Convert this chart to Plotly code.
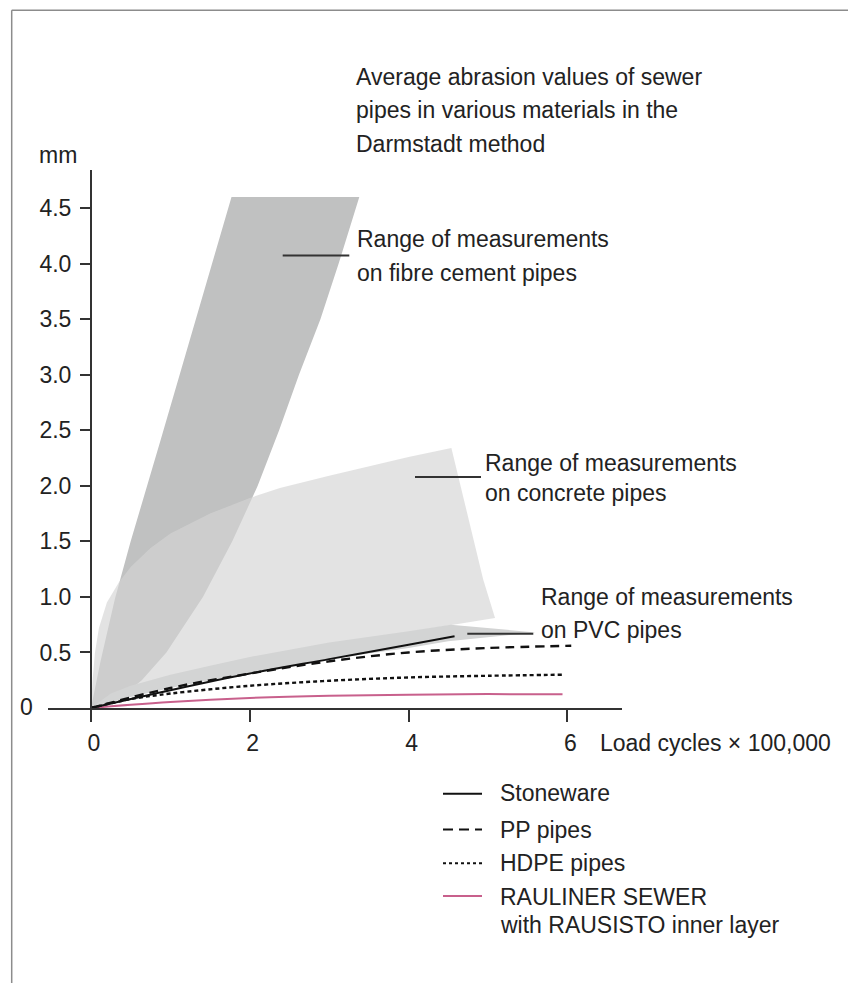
import plotly.graph_objects as go

# ---------------- data ----------------
x_tick_vals = [0, 2, 4, 6]
x_tick_text = ["0", "2", "4", "6"]
y_tick_vals = [0.5, 1.0, 1.5, 2.0, 2.5, 3.0, 3.5, 4.0, 4.5]
y_tick_text = ["0.5", "1.0", "1.5", "2.0", "2.5", "3.0", "3.5", "4.0", "4.5"]

# range bands (outline points, going round each band)
fibre_x = [0, 0.12, 0.30, 0.50, 0.88, 1.30, 1.77,
           3.38, 3.25, 3.12, 2.89, 2.62, 2.37, 2.10, 1.78, 1.41, 0.95, 0.64, 0.38, 0]
fibre_y = [0, 0.42, 0.98, 1.50, 2.42, 3.45, 4.60,
           4.60, 4.30, 4.00, 3.50, 3.00, 2.50, 2.00, 1.50, 1.00, 0.50, 0.25, 0.10, 0]

concrete_x = [0, 0.02, 0.05, 0.10, 0.20, 0.35, 0.50, 0.75, 1.00, 1.50, 2.00, 2.38, 3.00,
              3.46, 4.00, 4.54, 4.94, 5.09, 4.53, 4.00, 3.00, 2.00, 1.00, 0.50, 0]
concrete_y = [0, 0.25, 0.50, 0.72, 0.95, 1.13, 1.27, 1.44, 1.57, 1.75, 1.89, 1.98, 2.09,
              2.17, 2.26, 2.34, 1.16, 0.81, 0.745, 0.68, 0.57, 0.44, 0.28, 0.18, 0]

pvc_x = [0, 0.25, 0.50, 1.00, 1.50, 2.00, 3.00, 4.00, 4.53, 5.60,
         4.50, 4.00, 3.00, 2.00, 1.00, 0.50, 0]
pvc_y = [0, 0.13, 0.20, 0.30, 0.38, 0.46, 0.59, 0.69, 0.75, 0.68,
         0.60, 0.54, 0.44, 0.32, 0.18, 0.10, 0]

# abrasion curves
stone_x = [0, 1.00, 2.00, 3.00, 4.00, 4.58]
stone_y = [0, 0.16, 0.31, 0.44, 0.57, 0.645]

pp_x = [0, 1.00, 2.00, 3.00, 4.00, 5.00, 6.05]
pp_y = [0, 0.18, 0.31, 0.42, 0.50, 0.54, 0.56]

hdpe_x = [0, 0.50, 1.00, 2.00, 3.00, 4.00, 5.00, 5.97]
hdpe_y = [0, 0.08, 0.13, 0.20, 0.245, 0.275, 0.29, 0.30]

rau_x = [0, 0.50, 1.00, 2.00, 3.00, 4.00, 5.00, 5.94]
rau_y = [0, 0.03, 0.055, 0.09, 0.11, 0.12, 0.125, 0.124]

title_lines = ["Average abrasion values of sewer",
               "pipes in various materials in the",
               "Darmstadt method"]
band_labels = {
    "fibre": ["Range of measurements", "on fibre cement pipes"],
    "concrete": ["Range of measurements", "on concrete pipes"],
    "pvc": ["Range of measurements", "on PVC pipes"],
}
series_names = ["Stoneware", "PP pipes", "HDPE pipes", "RAULINER SEWER"]
rau_second_line = "with RAUSISTO inner layer"

# ---------------- styling ----------------
FONT = "Liberation Sans, Arial, Helvetica, sans-serif"
FS = 23
TXT = "#222222"
AX = "#333333"
PINK = "#c8608c"
C_FIBRE = "#c0c1c1"
C_CONC = "rgba(212,212,212,0.65)"
C_PVC = "#d3d4d4"

OFF = 8                      # page body margin of the browser
W, H = 856 - OFF, 983 - OFF
# plot area in page pixels
L_P, R_P, T_P, B_P = 48, 622, 170, 708.5
L, R, T, B = L_P - OFF, R_P - OFF, T_P - OFF, B_P - OFF
X0_PAGE, X_PER, Y_PER = 91.0, 79.38, 111.2
XR = [(L_P - X0_PAGE) / X_PER, (R_P - X0_PAGE) / X_PER]
YR = [0, (B_P - T_P) / Y_PER]


def px(xp):
    """page x pixel -> paper fraction"""
    return (xp - L_P) / (R_P - L_P)


def py(yp):
    """page y pixel -> paper fraction"""
    return (B_P - yp) / (B_P - T_P)


fig = go.Figure()

fig.add_trace(go.Scatter(x=fibre_x, y=fibre_y, fill="toself", fillcolor=C_FIBRE,
                         mode="lines", line=dict(width=0),
                         name="Fibre cement pipes", hoverinfo="skip"))
fig.add_trace(go.Scatter(x=concrete_x, y=concrete_y, fill="toself", fillcolor=C_CONC,
                         mode="lines", line=dict(width=0),
                         name="Concrete pipes", hoverinfo="skip"))
fig.add_trace(go.Scatter(x=pvc_x, y=pvc_y, fill="toself", fillcolor=C_PVC,
                         mode="lines", line=dict(width=0),
                         name="PVC pipes", hoverinfo="skip"))

fig.add_trace(go.Scatter(x=rau_x, y=rau_y, mode="lines", name=series_names[3],
                         line=dict(color=PINK, width=2, shape="spline")))
fig.add_trace(go.Scatter(x=hdpe_x, y=hdpe_y, mode="lines", name=series_names[2],
                         line=dict(color="#111111", width=2.4, dash="4px,3px", shape="spline")))
fig.add_trace(go.Scatter(x=pp_x, y=pp_y, mode="lines", name=series_names[1],
                         line=dict(color="#111111", width=2.4, dash="9px,6px", shape="spline")))
fig.add_trace(go.Scatter(x=stone_x, y=stone_y, mode="lines", name=series_names[0],
                         line=dict(color="#111111", width=2, shape="spline")))

shapes = []
annotations = []


def add_text(text, xp, yp, xanchor="left"):
    annotations.append(dict(text=text, x=px(xp), y=py(yp), xref="paper", yref="paper",
                            xanchor=xanchor, yanchor="middle", showarrow=False,
                            font=dict(family=FONT, size=FS, color=TXT)))


# frame
for (x0, y0, x1, y1) in [(11.7, 10, 11.7, 990), (11.7, 10, 850.7, 10), (850.7, 10, 850.7, 990)]:
    shapes.append(dict(type="line", xref="paper", yref="paper",
                       x0=px(x0), y0=py(y0), x1=px(x1), y1=py(y1),
                       line=dict(color="#8c8c8c", width=1.5)))

# title
for i, t in enumerate(title_lines):
    add_text(t, 354, 76.5 + i * 33.7)

# axis captions
add_text("mm", 37, 154.5)
add_text("0", 34.5, 707.5, xanchor="right")
add_text("Load cycles \u00d7 100,000", 598, 743.8)

# band labels with leader lines
label_pos = {"fibre": (355, 238.8, 273.2, 282.7, 349.3, 255.7),
             "concrete": (483, 463.2, 493.2, 415, 481, 477.3),
             "pvc": (539, 597, 630.5, 467.3, 533.3, 634.3)}
for key, (lx, y1, y2, ax0, ax1, ay) in label_pos.items():
    add_text(band_labels[key][0], lx, y1)
    add_text(band_labels[key][1], lx, y2)
    shapes.append(dict(type="line", xref="x", yref="y",
                       x0=(ax0 - X0_PAGE) / X_PER, x1=(ax1 - X0_PAGE) / X_PER,
                       y0=(B_P - ay) / Y_PER, y1=(B_P - ay) / Y_PER,
                       line=dict(color=AX, width=2)))

# legend (drawn by hand)
leg = [(series_names[0], 794.3, dict(color="#111111", width=2), 793.5),
       (series_names[1], 830.0, dict(color="#111111", width=2, dash="10px,6px"), 830.5),
       (series_names[2], 864.0, dict(color="#111111", width=2, dash="3px,3px"), 863.8),
       (series_names[3], 896.7, dict(color=PINK, width=2), 897.2)]
for name, ly, lstyle, ty in leg:
    shapes.append(dict(type="line", xref="paper", yref="paper",
                       x0=px(443), x1=px(482), y0=py(ly), y1=py(ly), line=lstyle))
    add_text(name, 497.5, ty)
add_text(rau_second_line, 497.5, 925.5)

fig.update_layout(
    width=W, height=H,
    margin=dict(l=L, r=W - R, t=T, b=H - B, pad=0),
    paper_bgcolor="white", plot_bgcolor="white",
    showlegend=False,
    font=dict(family=FONT, size=FS, color=TXT),
    shapes=shapes, annotations=annotations,
    xaxis=dict(range=XR, showgrid=False, zeroline=False, showline=True, linecolor=AX,
               linewidth=2, ticks="outside", ticklen=12, tickwidth=2, tickcolor=AX,
               tickvals=x_tick_vals, ticktext=x_tick_text, ticklabelstandoff=1,
               ticklabelshift=3, tickfont=dict(family=FONT, size=FS, color=TXT),
               automargin=False, fixedrange=True),
    yaxis=dict(range=YR, showgrid=False, zeroline=False, showline=True, linecolor=AX,
               linewidth=2, ticks="outside", ticklen=10, tickwidth=2, tickcolor=AX,
               tickvals=y_tick_vals, ticktext=y_tick_text, anchor="free",
               position=(X0_PAGE - L_P) / (R_P - L_P), ticklabelstandoff=4,
               tickfont=dict(family=FONT, size=FS, color=TXT),
               automargin=False, fixedrange=True),
)

fig.write_html("out.html")
